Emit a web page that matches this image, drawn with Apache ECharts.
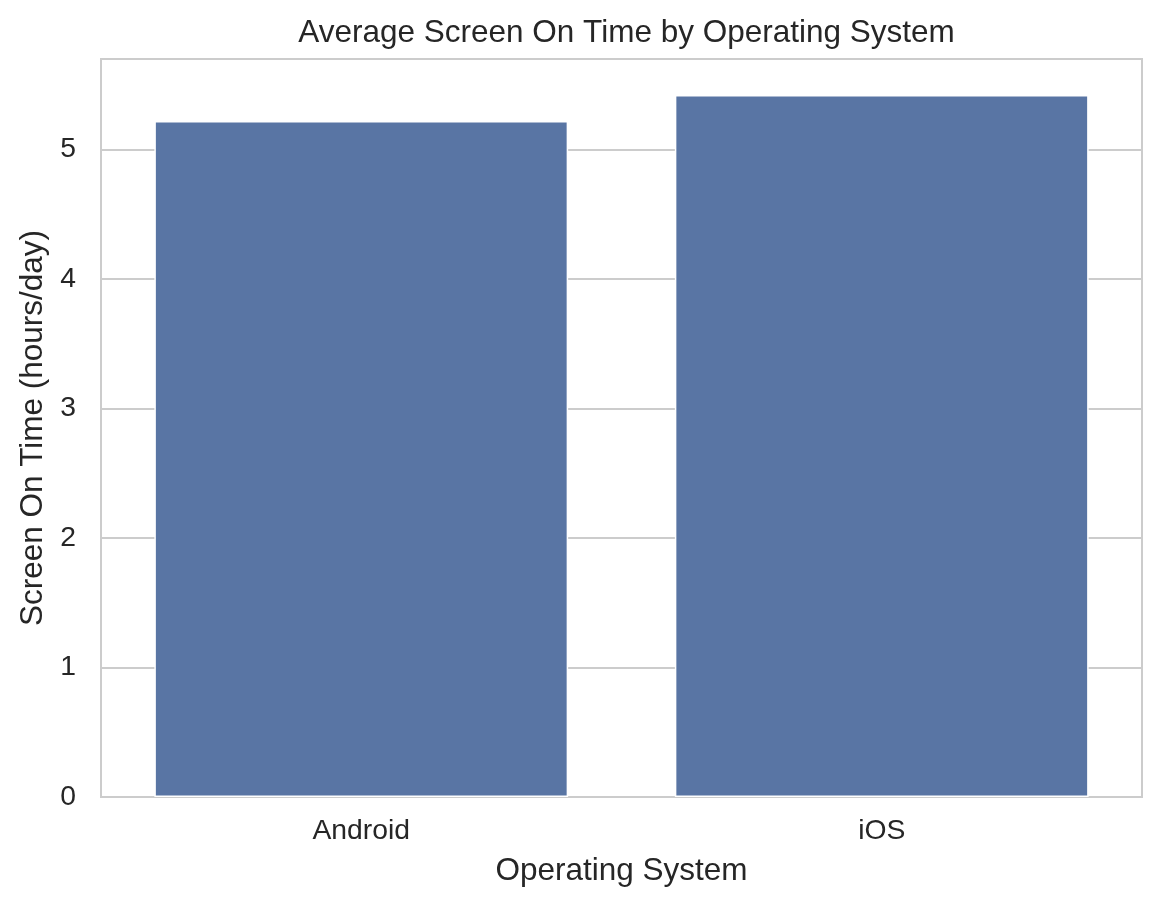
<!DOCTYPE html>
<html>
<head>
<meta charset="utf-8">
<script src="https://cdn.jsdelivr.net/npm/echarts@6/dist/echarts.min.js"></script>
<style>
  html, body { margin: 0; padding: 0; background: #fff; }
  #chart { width: 1161px; height: 909px; }
</style>
</head>
<body>
<div id="chart"></div>
<script>
const categories = ["Android", "iOS"];
const screenOnTime = [5.22, 5.42];
const yTicks = [0, 1, 2, 3, 4, 5];

const FONT = "Liberation Sans, Arial, sans-serif";
const chart = echarts.init(document.getElementById("chart"));

chart.setOption({
  animation: false,
  backgroundColor: "#ffffff",
  title: {
    text: "Average Screen On Time by Operating System",
    left: 621.5,
    textAlign: "center",
    top: 12,
    textStyle: { fontFamily: FONT, fontSize: 31.5, fontWeight: "normal", color: "#262626" }
  },
  grid: {
    left: 101, right: 19, top: 59, bottom: 112,
    show: true, borderColor: "#cccccc", borderWidth: 2, backgroundColor: "transparent"
  },
  xAxis: {
    type: "category",
    data: categories,
    name: "Operating System",
    nameLocation: "middle",
    nameGap: 58,
    nameTextStyle: { fontFamily: FONT, fontSize: 31.5, color: "#262626" },
    axisLine: { show: false },
    axisTick: { show: false },
    axisLabel: { fontFamily: FONT, fontSize: 28.3, color: "#262626", margin: 20 }
  },
  yAxis: {
    type: "value",
    min: 0,
    max: 5.698,
    interval: 1,
    name: "Screen On Time (hours/day)",
    nameLocation: "middle",
    nameGap: 52,
    nameTextStyle: { fontFamily: FONT, fontSize: 31.5, color: "#262626" },
    axisLine: { show: false },
    axisTick: { show: false },
    axisLabel: {
      fontFamily: FONT, fontSize: 28.3, color: "#262626", margin: 25,
      formatter: v => (yTicks.indexOf(v) >= 0 ? String(v) : "")
    },
    splitLine: { show: true, lineStyle: { color: "#cccccc", width: 2 } }
  },
  series: [{
    type: "bar",
    data: screenOnTime,
    barWidth: "79.5%",
    itemStyle: { color: "#5975a4", borderColor: "#ffffff", borderWidth: 1.5 }
  }]
});
</script>
</body>
</html>
